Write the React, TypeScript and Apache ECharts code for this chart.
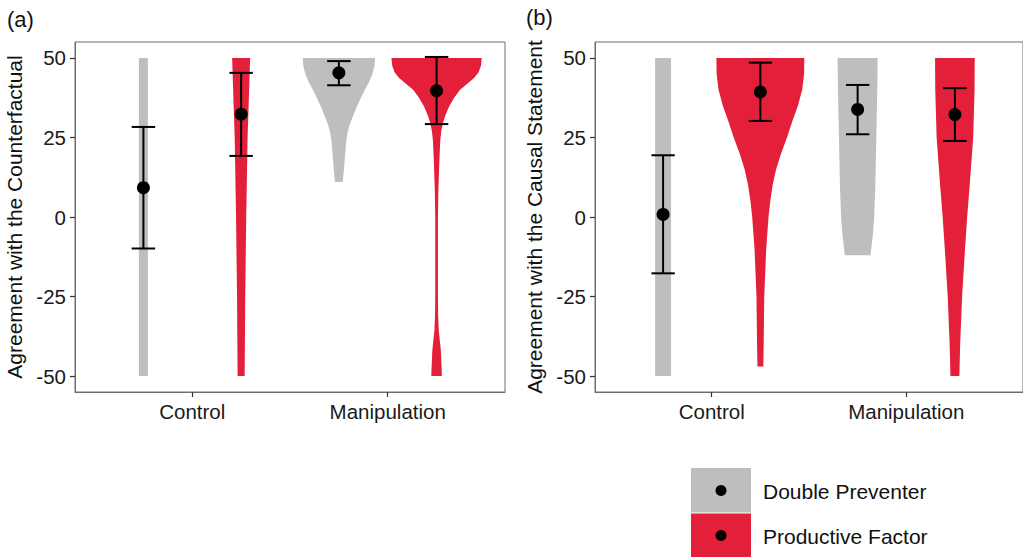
import React, { useEffect, useRef } from "react";
import * as echarts from "echarts";

// ---------- data ----------
const groups = ["Control", "Manipulation"];
const conditions = ["Double Preventer", "Productive Factor"];
const yTicks = [-50, -25, 0, 25, 50];
const panelTitles = ["(a)", "(b)"];
const yTitles = ["Agreement with the Counterfactual", "Agreement with the Causal Statement"];

// Panel (a): means and error-bar limits, per group [Control, Manipulation]
const aMeanDP = [9.2, 45.3];
const aLowDP = [-9.9, 41.4];
const aHighDP = [28.3, 49.0];
const aMeanPF = [32.3, 39.7];
const aLowPF = [19.2, 29.2];
const aHighPF = [45.3, 50.3];

// Panel (b)
const bMeanDP = [0.8, 33.8];
const bLowDP = [-17.7, 26.0];
const bHighDP = [19.4, 41.5];
const bMeanPF = [39.3, 32.2];
const bLowPF = [30.2, 23.9];
const bHighPF = [48.5, 40.5];

// Violin density profiles: [value, half-width in x-axis units], bottom to top
const aCtrlDP = [[-50, 0.023], [0, 0.023], [50, 0.023]];
const aCtrlPF = [[-50, 0.018], [-25, 0.021], [0, 0.026], [25, 0.033], [40, 0.041], [50, 0.046]];
const aManDP = [
  [11, 0.02], [15, 0.026], [19, 0.031], [24, 0.038], [27, 0.046], [29.5, 0.058], [32, 0.074],
  [34.7, 0.092], [37.5, 0.113], [40, 0.133], [42.5, 0.155], [45, 0.172], [47.5, 0.182], [50, 0.185],
];
const aManPF = [
  [-50, 0.027], [-48, 0.026], [-45, 0.024], [-42, 0.022], [-38.5, 0.016], [-35.5, 0.011],
  [-31, 0.008], [-26, 0.007], [0, 0.007], [8, 0.009], [13.7, 0.012], [19, 0.015], [24.2, 0.019],
  [27, 0.024], [29.5, 0.032], [32, 0.045], [34.7, 0.064], [37.5, 0.09], [40, 0.12], [42, 0.16],
  [43.8, 0.193], [45.5, 0.215], [47.5, 0.227], [50, 0.231],
];
const bCtrlDP = [[-50, 0.041], [0, 0.041], [50, 0.041]];
const bCtrlPF = [
  [-47, 0.015], [-40, 0.017], [-25, 0.02], [-10, 0.03], [0, 0.042], [5, 0.051], [10, 0.063],
  [15, 0.081], [20, 0.107], [25, 0.137], [30, 0.164], [35, 0.193], [40, 0.215], [45, 0.225], [50, 0.226],
];
const bManDP = [
  [-12, 0.066], [-10, 0.07], [-5, 0.079], [0, 0.085], [10, 0.091], [25, 0.096], [40, 0.101], [50, 0.103],
];
const bManPF = [
  [-50, 0.023], [-40, 0.027], [-25, 0.037], [-10, 0.052], [0, 0.063], [10, 0.076], [25, 0.094],
  [40, 0.101], [50, 0.102],
];

// ---------- styling ----------
const colorDP = "#BEBEBE";
const colorPF = "#E41F3A";
const FONT = "'Liberation Sans', Arial, Helvetica, sans-serif";
const DODGE = 0.25;

function violin(axis: number, x: number, profile: number[][], color: string) {
  return {
    type: "custom",
    xAxisIndex: axis,
    yAxisIndex: axis,
    silent: true,
    z: 1,
    data: [[x, 0]],
    encode: { x: 0, y: 1 },
    renderItem: (params: any, api: any) => {
      const left = profile.map(([y, hw]) => api.coord([x - hw, y]));
      const right = [...profile].reverse().map(([y, hw]) => api.coord([x + hw, y]));
      return {
        type: "polygon",
        shape: { points: left.concat(right) },
        style: { fill: color, stroke: null },
      };
    },
  };
}

function errorBars(axis: number, xs: number[], lows: number[], highs: number[]) {
  return {
    type: "custom",
    xAxisIndex: axis,
    yAxisIndex: axis,
    silent: true,
    z: 3,
    data: xs.map((x, i) => [x, lows[i], highs[i]]),
    encode: { x: 0, y: [1, 2] },
    renderItem: (params: any, api: any) => {
      const xv = api.value(0);
      const lo = api.coord([xv, api.value(1)]);
      const hi = api.coord([xv, api.value(2)]);
      const cap = api.size([0.06, 0])[0];
      const st = { stroke: "#000", lineWidth: 2 };
      return {
        type: "group",
        children: [
          { type: "line", shape: { x1: lo[0], y1: lo[1], x2: hi[0], y2: hi[1] }, style: st },
          { type: "line", shape: { x1: lo[0] - cap, y1: lo[1], x2: lo[0] + cap, y2: lo[1] }, style: st },
          { type: "line", shape: { x1: hi[0] - cap, y1: hi[1], x2: hi[0] + cap, y2: hi[1] }, style: st },
        ],
      };
    },
  };
}

function means(axis: number, xs: number[], vals: number[]) {
  return {
    type: "scatter",
    xAxisIndex: axis,
    yAxisIndex: axis,
    silent: true,
    z: 4,
    symbol: "circle",
    symbolSize: 13,
    itemStyle: { color: "#000", opacity: 1 },
    data: xs.map((x, i) => [x, vals[i]]),
  };
}

const xDP = groups.map((_, i) => i + 1 - DODGE);
const xPF = groups.map((_, i) => i + 1 + DODGE);

function xAxisCfg(gridIndex: number) {
  return {
    type: "value",
    gridIndex,
    min: 0.4,
    max: 2.6,
    splitLine: { show: false },
    axisLine: { show: true, onZero: false, lineStyle: { color: "#6e6e6e", width: 1 } },
    axisTick: { show: true, customValues: [1, 2], length: 5, lineStyle: { color: "#333", width: 1.2 } },
    axisLabel: {
      customValues: [1, 2],
      formatter: (v: number) => groups[Math.round(v) - 1] ?? "",
      fontSize: 20.5,
      color: "#1a1a1a",
      fontFamily: FONT,
      margin: 9,
    },
  };
}

function yAxisCfg(gridIndex: number) {
  return {
    type: "value",
    gridIndex,
    min: -55,
    max: 55,
    splitLine: { show: false },
    axisLine: { show: true, onZero: false, lineStyle: { color: "#6e6e6e", width: 1 } },
    axisTick: { show: true, customValues: yTicks, length: 5, lineStyle: { color: "#333", width: 1.2 } },
    axisLabel: {
      customValues: yTicks,
      fontSize: 20.5,
      color: "#1a1a1a",
      fontFamily: FONT,
      margin: 9,
    },
    name: yTitles[gridIndex],
    nameLocation: "middle",
    nameGap: 50,
    nameTextStyle: { fontSize: 21, color: "#111", fontFamily: FONT },
  };
}

export default function App() {
  const ref = useRef<HTMLDivElement>(null);
  useEffect(() => {
    if (!ref.current) return;
    const chart = echarts.init(ref.current, null, { renderer: "svg" });
    const option: any = {
      animation: false,
      backgroundColor: "#fff",
      textStyle: { fontFamily: FONT },
      grid: [
        { left: 75, top: 42, width: 430, height: 350, show: true, borderColor: "#6e6e6e", borderWidth: 1, backgroundColor: "transparent" },
        { left: 595, top: 42, width: 431, height: 350, show: true, borderColor: "#6e6e6e", borderWidth: 1, backgroundColor: "transparent" },
      ],
      xAxis: [xAxisCfg(0), xAxisCfg(1)],
      yAxis: [yAxisCfg(0), yAxisCfg(1)],
      series: [
        violin(0, xDP[0], aCtrlDP, colorDP),
        violin(0, xPF[0], aCtrlPF, colorPF),
        violin(0, xDP[1], aManDP, colorDP),
        violin(0, xPF[1], aManPF, colorPF),
        errorBars(0, xDP, aLowDP, aHighDP),
        errorBars(0, xPF, aLowPF, aHighPF),
        means(0, xDP, aMeanDP),
        means(0, xPF, aMeanPF),
        violin(1, xDP[0], bCtrlDP, colorDP),
        violin(1, xPF[0], bCtrlPF, colorPF),
        violin(1, xDP[1], bManDP, colorDP),
        violin(1, xPF[1], bManPF, colorPF),
        errorBars(1, xDP, bLowDP, bHighDP),
        errorBars(1, xPF, bLowPF, bHighPF),
        means(1, xDP, bMeanDP),
        means(1, xPF, bMeanPF),
      ],
      graphic: [
        { type: "text", left: 7, top: 8, style: { text: panelTitles[0], fontSize: 22, fill: "#111", fontFamily: FONT } },
        { type: "text", left: 526, top: 6, style: { text: panelTitles[1], fontSize: 22, fill: "#111", fontFamily: FONT } },
        { type: "rect", shape: { x: 691, y: 468, width: 60, height: 44.5 }, style: { fill: colorDP } },
        { type: "rect", shape: { x: 691, y: 513.5, width: 60, height: 45 }, style: { fill: colorPF } },
        { type: "circle", shape: { cx: 721, cy: 490.5, r: 5.5 }, style: { fill: "#000" } },
        { type: "circle", shape: { cx: 721, cy: 535.5, r: 5.5 }, style: { fill: "#000" } },
        { type: "text", x: 763, y: 491, style: { text: conditions[0], fontSize: 21, fill: "#111", fontFamily: FONT, verticalAlign: "middle" } },
        { type: "text", x: 763, y: 536, style: { text: conditions[1], fontSize: 21, fill: "#111", fontFamily: FONT, verticalAlign: "middle" } },
      ],
    };
    chart.setOption(option);
    return () => chart.dispose();
  }, []);
  return <div ref={ref} style={{ position: "absolute", left: 0, top: 0, width: 1023, height: 557 }} />;
}
